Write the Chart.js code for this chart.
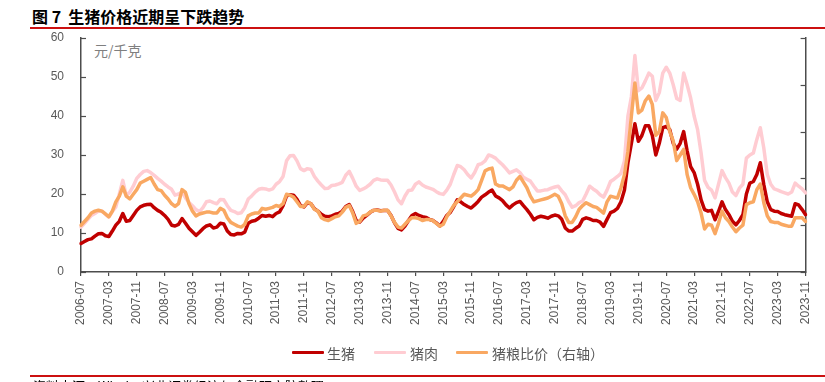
<!DOCTYPE html>
<html><head><meta charset="utf-8">
<script src="https://cdn.jsdelivr.net/npm/chart.js@4/dist/chart.umd.min.js"></script>
<style>
body{margin:0;width:825px;height:382px;overflow:hidden;background:#fff;position:relative;font-family:"Noto Sans CJK SC","Liberation Sans",sans-serif;}
#title{position:absolute;left:32px;top:5px;font-size:16px;font-weight:bold;color:#000;line-height:22px;white-space:nowrap;}
.rule{position:absolute;left:30px;right:0;height:2px;background:#cc1010;}
#unit{position:absolute;left:94px;top:40px;font-size:14px;color:#7f7f7f;line-height:20px;white-space:nowrap;}
.lg{position:absolute;top:343px;font-size:14px;color:#595959;line-height:20px;white-space:nowrap;}
.sw{position:absolute;top:351px;height:3px;width:32px;border-radius:1px;}
#src{position:absolute;left:33px;top:377px;font-size:13px;color:#000;line-height:18px;white-space:nowrap;}
canvas{position:absolute;left:0;top:0;}
</style></head>
<body>
<div id="title">图 7&nbsp;&nbsp;生猪价格近期呈下跌趋势</div>
<div class="rule" style="top:27px"></div>
<div id="unit">元/千克</div>
<canvas id="c" width="825" height="382"></canvas>
<div class="sw" style="left:292px;background:#c00000"></div><div class="lg" style="left:327px">生猪</div>
<div class="sw" style="left:374px;background:#ffccd2"></div><div class="lg" style="left:410px">猪肉</div>
<div class="sw" style="left:456px;background:#f9a862"></div><div class="lg" style="left:492px">猪粮比价（右轴）</div>
<div class="rule" style="top:375px"></div>
<div id="src">资料来源：Wind，兴业证券经济与金融研究院整理</div>
<script>
// monthly categories 2006-07 .. 2023-11
const startYear = 2006, startMonth = 7, monthCount = 209;
const months = [];
for (let i = 0; i < monthCount; i++) {
  const t = startMonth - 1 + i;
  const y = startYear + Math.floor(t / 12), m = (t % 12) + 1;
  months.push(y + '-' + (m < 10 ? '0' + m : m));
}
const tickEvery = 8;

// 生猪 (元/千克)
const hogPrice = [
7.3,7.8,8.3,8.5,9.2,9.8,9.9,9.3,
9.1,10.5,12,13,15,13,13.2,14.5,
15.8,16.7,17.1,17.3,17.4,16.5,15.8,15.3,
14.5,13.5,12,11.8,12.2,13.7,12.5,11.2,
10.3,9.4,10.2,11.1,11.8,12.1,11.3,11.5,
12.5,12.3,10.5,9.6,9.5,9.9,9.8,10.2,
12.5,13,13.2,13.8,14.5,14.3,14.5,14.2,
15,15.4,17,19.5,19.8,19.7,18.6,17,
16.7,17.8,17.5,16.2,15.6,14.8,14.3,14.2,
14.4,14.8,15,15.6,16.8,17.3,15.5,13.2,
12.8,13.8,14.5,15.3,15.8,15.9,15.7,15.8,
15.8,14.5,12.6,11.2,10.8,11.8,13.2,14.5,
15,14.5,14.2,14,13.5,13.2,12.6,11.8,
13,14.5,15.3,16.8,18.5,18,17.3,16.8,
16.4,17.2,18.1,19.2,19.8,20.5,21,19.5,
19,18.3,17.2,16.4,17.2,17.8,18.1,17,
16,14.8,13.4,14,14.3,14.1,13.8,14.3,
14.6,14.4,13.5,11.3,10.5,10.5,11.2,11.8,
13.5,13.9,13.6,13.2,13.2,12.8,11.7,13.5,
15.2,15.6,16.3,18,21,28,33,38,
33.5,35,37.5,37.5,35,30,33,37,
37.3,36.5,33,31.5,33,36,31,27,
25.5,22.5,18.5,16,15.6,15.8,13.4,15.5,
18,16,14.7,13,12.1,13.2,14.7,20,
22.8,23.2,25,28,22.4,18,16,15.6,
15.5,15,14.7,14.5,14.3,17.5,17.2,16,
14.7];

// 猪肉 (元/千克)
const porkPrice = [
11.5,12.5,13.5,14.5,15,15.6,15.6,14.8,
14.1,15.5,16.7,20,23.5,19.5,20.5,22,
24,25,25.8,26,25.5,24.8,24,23.3,
22.5,21.8,21.2,19.7,20,20.5,19,17.8,
17,16,15.5,16.5,18,18.2,17.8,17.5,
18.6,18.5,17,15.8,15.5,15,15.2,16.5,
18.7,19.5,20.5,21.2,21.4,21.3,21,21.3,
22.5,23.2,24.5,28.5,29.8,29.9,28.5,26.5,
26,26.5,26.3,24.5,23.3,22.3,21.4,21.5,
22.2,22.3,22.6,23,24.8,25.8,24,22,
20.9,21.3,21.8,22.5,23.5,23.9,23.6,23.5,
23.5,22.3,20.5,18.5,17.5,19.5,20.9,21,
22.5,23.1,22.3,21.8,21.5,21.2,20.6,20.1,
19.9,21,22.5,25,27.3,27,26.2,25,
24.1,25.5,27.5,27.8,28.5,30,29.7,29.2,
28.3,27.5,26.5,25.4,25.8,26.2,25.5,24.3,
23.8,23.3,22,20.8,20.8,21,21.1,21.5,
21.8,22,20.8,19.8,18,16.6,17,17.8,
18.2,20,22,21.3,20.7,19.8,19.2,21,
23.2,23.8,24.5,25.3,28.5,40,45,55.5,
46.5,47.2,49,51,50.2,44,46,51,
52.5,51,48,44.5,44,51,48,44.6,
40,36.5,30.5,23.5,21.7,21,19,22.5,
26,24.2,22.8,20.5,19.6,21.5,22.5,29.2,
30,30.5,34,37,31.8,25,22.5,21.3,
21,20.6,20.3,20,20.5,22.8,22,21.3,
20.3];

// 猪粮比价 (右轴)
const hogGrainRatio = [
5.0,5.4,5.8,6.3,6.5,6.6,6.5,6.2,
5.9,6.5,7.5,8.1,9.1,8.1,7.8,8.3,
8.8,9.5,9.7,9.9,10.1,9.4,8.8,8.7,
8.2,7.8,7.3,7.0,7.3,8.8,8.5,7.3,
6.5,6.0,6.2,6.3,6.4,6.4,6.3,6.3,
6.8,6.6,5.8,5.3,5.1,4.9,4.8,5.1,
6.0,6.2,6.3,6.3,6.8,6.7,6.8,6.9,
7.1,7.0,7.3,8.3,8.2,8.0,7.5,7.0,
7.0,7.5,7.3,6.7,6.5,5.8,5.6,5.5,
5.7,5.9,6.0,6.4,6.9,7.1,6.3,5.2,
5.4,6.0,6.1,6.4,6.6,6.6,6.5,6.6,
6.6,6.0,5.3,4.8,4.7,5.1,5.5,5.8,
5.8,5.7,5.5,5.6,5.6,5.5,5.2,4.9,
5.1,5.9,6.5,7.1,7.5,7.9,8.3,8.2,
8.1,8.4,8.8,9.8,10.8,11.0,11.1,9.4,
9.2,9.2,9.0,8.8,9.1,9.8,10.2,9.6,
9.0,8.1,7.5,7.6,7.7,7.8,7.9,8.1,
8.3,8.1,7.3,6.0,5.3,5.3,5.9,6.7,
7.1,7.4,7.2,7.0,6.9,6.6,6.3,7.5,
8.1,8.0,7.9,9.0,10.4,12.9,16.7,20.2,
17.0,17.3,18.3,18.8,17.9,14.6,15.0,17.0,
16.5,15.0,14.0,11.9,12.5,13.1,10.4,9.0,
8.3,7.5,6.3,4.6,5.1,5.0,4.1,5.2,
6.5,5.8,5.4,4.8,4.3,4.7,5.0,7.2,
7.4,7.5,8.8,9.4,7.4,6.0,5.4,5.3,
5.3,5.1,5.0,4.9,4.9,5.8,5.8,5.8,
5.4];

const leftTicks = [0,10,20,30,40,50,60];
const rightMax = 25, rightStep = 5;

const axisColor = '#4d4d4d';
const inwardTicks = {
  id: 'inwardTicks',
  afterDraw(chart) {
    const ctx = chart.ctx, yl = chart.scales.y, yr = chart.scales.y2;
    ctx.save();
    ctx.strokeStyle = axisColor; ctx.lineWidth = 1.2;
    yl.ticks.forEach(t => {
      const p = Math.round(yl.getPixelForValue(t.value)) + 0.5;
      ctx.beginPath(); ctx.moveTo(yl.right, p); ctx.lineTo(yl.right + 5, p); ctx.stroke();
    });
    yr.ticks.forEach(t => {
      const p = Math.round(yr.getPixelForValue(t.value)) + 0.5;
      ctx.beginPath(); ctx.moveTo(yr.left, p); ctx.lineTo(yr.left - 5, p); ctx.stroke();
    });
    ctx.restore();
  }
};

new Chart(document.getElementById('c'), {
  type: 'line',
  data: {
    labels: months,
    datasets: [
      {label: '生猪', data: hogPrice, yAxisID: 'y', borderColor: '#c00000', borderWidth: 3.5, order: 3},
      {label: '猪肉', data: porkPrice, yAxisID: 'y', borderColor: '#ffccd2', borderWidth: 3.5, order: 2},
      {label: '猪粮比价（右轴）', data: hogGrainRatio, yAxisID: 'y2', borderColor: '#f9a862', borderWidth: 3.5, order: 1}
    ]
  },
  options: {
    responsive: false, animation: false, devicePixelRatio: 1,
    layout: {padding: {top: 38, left: 0, right: 0, bottom: 0}},
    elements: {point: {radius: 0}, line: {tension: 0, borderJoinStyle: 'round', borderCapStyle: 'round'}},
    plugins: {legend: {display: false}, tooltip: {enabled: false}},
    scales: {
      x: {
        type: 'category', offset: false,
        afterBuildTicks: s => { s.ticks = s.ticks.filter(t => t.value % tickEvery === 0); },
        afterFit: s => { s.height = 110; },
        grid: {drawOnChartArea: false, drawTicks: true, tickLength: 4, color: axisColor, lineWidth: 1.2},
        border: {display: true, color: axisColor, width: 1.5},
        ticks: {autoSkip: false, minRotation: 90, maxRotation: 90, padding: 5, color: '#595959',
                font: {family: 'Liberation Sans, Arial, sans-serif', size: 12}}
      },
      y: {
        position: 'left', min: 0, max: 60,
        afterBuildTicks: s => { s.ticks = leftTicks.map(v => ({value: v})); },
        afterFit: s => { s.width = 81; },
        grid: {drawOnChartArea: false, drawTicks: false},
        border: {display: true, color: axisColor, width: 1.5},
        ticks: {padding: 17, color: '#595959', font: {family: 'Liberation Sans, Arial, sans-serif', size: 12}}
      },
      y2: {
        position: 'right', min: 0, max: rightMax,
        ticks: {display: false, stepSize: rightStep},
        afterFit: s => { s.width = 14; },
        grid: {drawOnChartArea: false, drawTicks: false},
        border: {display: true, color: axisColor, width: 1.5}
      }
    }
  },
  plugins: [inwardTicks]
});
</script>
</body></html>
